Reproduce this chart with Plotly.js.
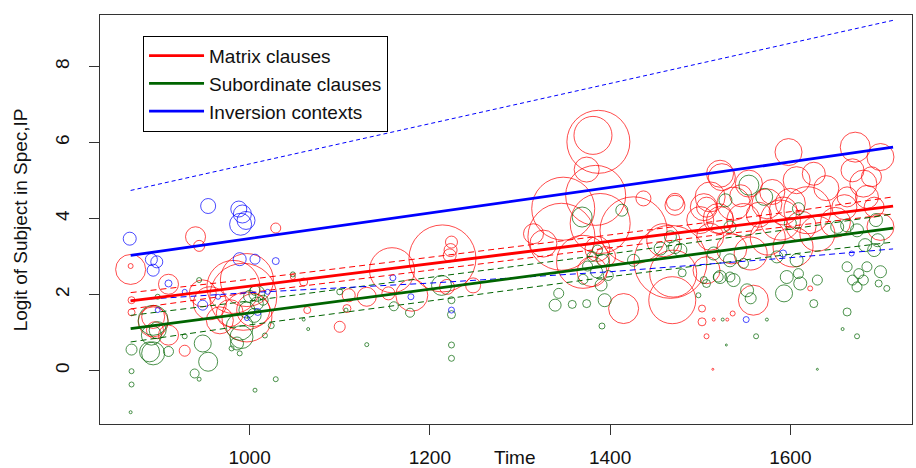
<!DOCTYPE html>
<html>
<head>
<meta charset="utf-8">
<script src="https://cdn.plot.ly/plotly-3.0.1.min.js"></script>
<style>html,body{margin:0;padding:0;background:#fff;}#chart{width:916px;height:468px;}</style>
</head>
<body>
<div id="chart"></div>
<script>
// ---- Data ----
// Matrix clauses (red)
const redYear = [868,868,869,869,893,893,895,910,910,928,940,944,948,956,967,982,993,997,997,1004,978,1029,1048,1064,1060,
  1100,1108,1110,1130,1154,1158,1180,1214,1224,1223,1222,1219,1248,1315,1326,
  1387,1381,1374,1384,1348,1346,1389,1426,1437,1472,1467,1370,1415,1386,1395,1380,1459,1470,1469,1472,
  1500,1507,1502,1502,1507,1515,1514,1530,1536,1522,1504,1598,1672,1700,1524,1554,1626,1607,1669,1681,1685,1663,
  1511,1537,1574,1589,1619,1548,1522,1511,1556,1603,1507,1559,1700,1693,1622,1580,1640,1600,1690,1650,1575,1535,1630,
  1565,1612,1545,1592,1660,1520];
const redVal = [2.66,2.75,1.85,1.53,1.28,1.41,1.06,0.93,2.27,0.52,3.52,3.28,2.03,1.77,1.32,2.2,1.94,1.41,2.38,1.59,1.51,3.75,2.46,1.59,2.33,
  1.15,1.63,1.98,1.94,2.03,2.64,1.98,2.95,3.38,3.17,3.03,2.2,2.24,3.6,3.34,
  6.02,6.19,5.29,4.61,4.26,3.52,3.87,3.69,4.53,4.44,2.86,2.86,1.63,3.2,3.0,2.6,3.43,2.55,1.85,4.35,
  3.96,4.3,1.63,1.28,0.9,1.34,0.03,1.34,1.5,5.18,4.3,5.75,5.88,5.62,5.09,4.92,5.18,5.01,5.27,4.92,4.57,4.57,
  4.57,4.39,4.39,3.96,4.22,3.96,3.96,3.52,3.08,3.25,2.64,1.85,3.78,4.3,2.16,4.7,4.8,4.4,5.1,3.9,3.5,3.2,3.6,
  4.1,3.8,4.6,4.2,4.3,4.0];
const redWeight = [30,5,7,7,30,23,17,20,20,11,20,11,27,33,27,53,67,50,53,33,27,10,5,7,8,
  11,8,13,19,13,45,32,67,12,13,13,15,15,20,27,
  63,38,25,60,63,67,60,67,15,17,73,53,30,25,20,30,33,47,47,20,
  27,20,7,8,5,3,2,3,5,27,27,27,30,27,27,27,23,27,23,27,23,20,
  30,33,30,40,47,33,27,27,33,40,27,30,27,20,5,25,25,30,20,30,35,30,35,
  25,30,22,28,25,30];

// Subordinate clauses (dark green)
const greenYear = [868,869,869,869,889,893,891,893,898,898,910,928,939,944,944,948,954,986,980,989,991,989,997,1008,1008,1006,1000,1015,1005,1017,1024,1029,1006,1048,1060,1065,
  1100,1107,1130,1160,1178,1213,1224,1224,1224,1224,
  1369,1413,1386,1380,1392,1375,1385,1398,1370,1390,1343,1339,1358,1374,1394,1391,1467,1456,1478,1426,1480,1504,1498,1472,1520,1533,
  1554,1571,1528,1609,1600,1533,1652,1663,1674,1695,1697,1693,1683,1515,1533,1548,1585,1607,1522,1537,1507,1596,1609,1611,1593,1552,1556,1630,1626,
  1663,1676,1669,1681,1674,1698,1707,1685,1663,1674,1658,1562,1574,1525,1529,1630,1700];
const greenVal = [-1.1,-0.37,-0.02,0.55,0.49,0.45,0.93,1.32,1.06,1.94,0.5,0.9,-0.08,-0.23,2.38,0.71,0.23,0.71,0.58,0.45,0.88,1.15,1.59,2.03,1.76,2.11,1.95,1.85,1.45,0.92,1.18,-0.23,-0.52,2.53,1.34,1.09,
  2.07,1.59,0.68,1.69,1.52,2.24,1.85,1.47,0.67,0.32,
  4.04,4.22,3.17,3.0,2.9,2.75,2.6,2.5,2.4,2.25,2.03,1.72,1.74,1.76,1.85,1.17,3.52,3.21,3.17,2.9,2.57,2.38,1.98,3.25,2.46,2.46,
  4.88,4.57,4.48,4.26,3.87,3.78,3.78,3.82,3.69,3.96,3.43,3.17,3.3,3.08,2.9,2.82,2.99,2.9,2.46,2.38,2.29,2.46,2.55,2.29,2.03,2.11,1.9,2.38,1.76,
  2.73,2.55,2.38,2.38,2.2,2.29,2.16,2.73,1.54,0.9,1.09,0.9,1.34,1.34,0.67,0.03,2.6];
const greenWeight = [3,5,5,11,20,23,20,30,17,5,10,5,9,4,5,17,19,13,5,5,23,27,16,16,13,10,12,10,14,5,6,5,4,5,3,3,
  6,4,4,9,9,20,7,8,6,6,
  20,12,10,10,12,10,12,10,10,12,10,12,8,8,13,6,12,13,13,12,8,7,5,13,10,10,
  20,17,13,12,12,12,13,13,13,13,13,13,13,13,13,10,12,13,13,13,8,13,10,13,17,13,11,10,8,
  10,10,10,10,10,7,6,10,8,5,3,5,3,3,2,2,12];

// Inversion contexts (blue)
const blueYear = [867,954,988,992,990,996,989,1006,1029,891,897,893,910,928,948,898,1009,997,1020,965,1159,1179,1224,1592,1551,1668];
const blueVal = [3.47,4.33,4.25,4.12,3.85,3.95,2.93,2.93,2.88,2.92,2.86,2.64,2.29,2.07,1.72,1.59,1.54,1.38,2.07,1.94,2.44,1.94,1.59,3.08,1.34,3.08];
const blueWeight = [13,15,16,18,22,18,13,10,7,12,12,12,7,5,10,5,7,5,5,5,6,6,6,7,6,5];

// Fitted lines and confidence bands
const fitYear = [868,1000,1200,1400,1600,1714];
const redFit = [1.83,2.22,2.81,3.40,3.99,4.33];
const redUpper = [2.05,2.40,2.98,3.57,4.18,4.57];
const redLower = [1.62,2.05,2.64,3.23,3.80,4.12];
const greenFit = [1.10,1.51,2.14,2.77,3.39,3.75];
const greenUpper = [1.45,1.83,2.45,3.07,3.72,4.12];
const greenLower = [0.75,1.20,1.83,2.47,3.06,3.38];
const blueFit = [3.03,3.47,4.14,4.82,5.49,5.88];
const blueUpper = [4.74,5.44,6.50,7.56,8.62,9.22];
const blueLower = [1.85,2.05,2.30,2.60,2.97,3.20];

const seriesNames = ['Matrix clauses','Subordinate clauses','Inversion contexts'];
const RED = '#FF0000', GREEN = '#006400', BLUE = '#0000FF';

function pts(x, y, w, c) {
  return {x: x, y: y, type: 'scatter', mode: 'markers', showlegend: false, hoverinfo: 'skip',
    marker: {symbol: 'circle-open', size: w, color: c, line: {width: 1, color: c}}};
}
function ln(y, c, width, dash, name) {
  return {x: fitYear, y: y, type: 'scatter', mode: 'lines', name: name || '', showlegend: !!name,
    hoverinfo: 'skip', line: {color: c, width: width, dash: dash || 'solid'}};
}

const traces = [
  pts(redYear, redVal, redWeight, RED),
  pts(greenYear, greenVal, greenWeight, GREEN),
  pts(blueYear, blueVal, blueWeight, BLUE),
  ln(redUpper, RED, 1, '6px,4px'), ln(redLower, RED, 1, '6px,4px'),
  ln(greenUpper, GREEN, 1, '6px,4px'), ln(greenLower, GREEN, 1, '6px,4px'),
  ln(blueUpper, BLUE, 1, '4px,3px'), ln(blueLower, BLUE, 1, '6px,4px'),
  ln(redFit, RED, 2.8, 'solid', seriesNames[0]),
  ln(greenFit, GREEN, 2.8, 'solid', seriesNames[1]),
  ln(blueFit, BLUE, 2.8, 'solid', seriesNames[2])
];

const FONT = 'Liberation Sans, Arial, sans-serif';
const FS = 19;
const layout = {
  width: 916, height: 468,
  margin: {l: 100, r: 4, t: 15, b: 44},
  paper_bgcolor: '#fff', plot_bgcolor: '#fff',
  font: {family: FONT, size: FS, color: '#111'},
  showlegend: true,
  legend: {x: 0.053, y: 0.949, xanchor: 'left', yanchor: 'top', bgcolor: '#fff',
    bordercolor: '#000', borderwidth: 1, font: {family: FONT, size: FS, color: '#111'},
    tracegroupgap: 0, itemwidth: 55},
  xaxis: {range: [834, 1735], tickvals: [1000,1200,1400,1600], showgrid: false, zeroline: false,
    showline: true, mirror: true, linecolor: '#333', linewidth: 1,
    ticks: 'outside', ticklen: 10, tickcolor: '#333', ticklabelstandoff: 6,
    tickfont: {family: FONT, size: FS, color: '#111'}},
  yaxis: {range: [-1.41, 9.36], tickvals: [0,2,4,6,8], showgrid: false, zeroline: false,
    showline: true, mirror: true, linecolor: '#333', linewidth: 1,
    ticks: 'outside', ticklen: 10, tickcolor: '#333', tickangle: -90, ticklabelstandoff: 12,
    tickfont: {family: FONT, size: FS, color: '#111'}},
  annotations: [
    {text: 'Time', xref: 'paper', yref: 'paper', x: 0.511, y: -0.081, xanchor: 'center', yanchor: 'middle',
      showarrow: false, font: {family: FONT, size: FS, color: '#111'}},
    {text: 'Logit of Subject in Spec,IP', xref: 'paper', yref: 'paper', x: -0.098, y: 0.499,
      xanchor: 'center', yanchor: 'middle', textangle: -90, showarrow: false,
      font: {family: FONT, size: FS, color: '#111'}}
  ]
};

Plotly.newPlot('chart', traces, layout, {staticPlot: true, displayModeBar: false});
</script>
</body>
</html>
